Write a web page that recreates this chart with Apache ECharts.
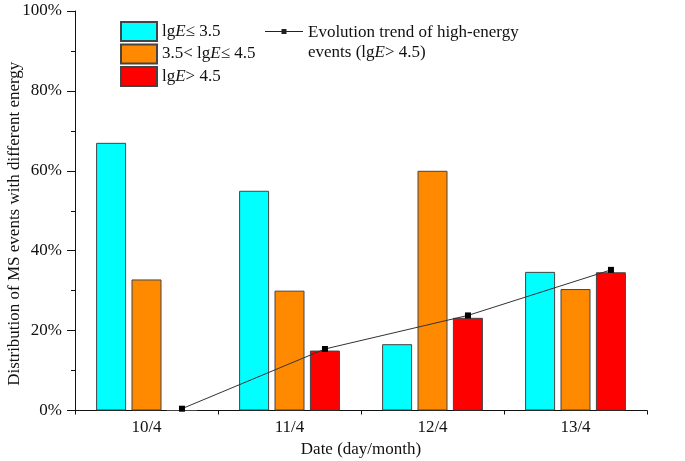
<!DOCTYPE html>
<html>
<head>
<meta charset="utf-8">
<script src="https://cdn.jsdelivr.net/npm/echarts@6/dist/echarts.min.js"></script>
<style>
html,body{margin:0;padding:0;background:#fff;}
#c{width:685px;height:461px;}
</style>
</head>
<body>
<div id="c"></div>
<script>
// Data (percent)
var categories = ['10/4', '11/4', '12/4', '13/4'];
var lowEnergy = [67, 55, 16.6, 34.7];      // lgE <= 3.5
var midEnergy = [32.8, 30, 60, 30.4];      // 3.5 < lgE <= 4.5
var highEnergy = [0, 15, 23.2, 34.6];      // lgE > 4.5
var trendValues = [0.45, 15.4, 23.8, 35.2]; // evolution trend of high-energy events
var trendOffset = 0.248; // trend points sit over the lgE>4.5 bar of each day
var yTicks = [0, 20, 40, 60, 80, 100];

var FONT = '"Liberation Serif", "Times New Roman", serif';
var rich = {
  n: {fontFamily: FONT, fontSize: 17, color: '#111', lineHeight: 20},
  i: {fontFamily: FONT, fontSize: 17, fontStyle: 'italic', color: '#111', lineHeight: 20}
};

var trendData = trendValues.map(function (v, i) { return [i + trendOffset, v]; });

var trendIcon = 'path://M0,0L0.01,0L0.01,0.01ZM0,19L0.01,19L0.01,18.99Z' +
  'M0,9L38,9L38,10L0,10Z' +
  'M16.5,7L21.5,7L21.5,12L16.5,12Z';

var chart = echarts.init(document.getElementById('c'));
chart.setOption({
  backgroundColor: '#ffffff',
  animation: false,
  grid: {left: 75, right: 38, top: 11, bottom: 50.5, outerBoundsMode: 'none', containLabel: false},
  legend: [{
    data: ['low', 'mid', 'high'],
    orient: 'vertical',
    left: 115, top: 16,
    icon: 'rect',
    itemWidth: 36, itemHeight: 19, itemGap: 1.5,
    textStyle: {rich: rich, fontFamily: FONT, fontSize: 17},
    formatter: function (name) {
      if (name === 'low') return '{n|lg}{i|E}{n|≤ 3.5}';
      if (name === 'mid') return '{n|3.5< lg}{i|E}{n|≤ 4.5}';
      return '{n|lg}{i|E}{n|> 4.5}';
    }
  }, {
    data: [{name: 'trend', icon: trendIcon, itemStyle: {color: '#222'}}],
    left: 260, top: 17,
    itemWidth: 38, itemHeight: 19,
    textStyle: {rich: rich, fontFamily: FONT, fontSize: 17, padding: [22, 0, 0, 0]},
    formatter: function () {
      return '{n|Evolution trend of high-energy}\n{n|events (lg}{i|E}{n|> 4.5)}';
    }
  }],
  xAxis: [{
    type: 'category',
    data: categories,
    name: 'Date (day/month)',
    nameLocation: 'middle',
    nameGap: 30,
    nameTextStyle: {fontFamily: FONT, fontSize: 17, color: '#111'},
    axisLine: {lineStyle: {color: '#111', width: 1}},
    axisTick: {show: true, length: 4, inside: false, lineStyle: {color: '#111'}},
    axisLabel: {fontFamily: FONT, fontSize: 17, color: '#111', margin: 9},
    splitLine: {show: false}
  }, {
    type: 'value',
    min: -0.5, max: 3.5,
    show: false
  }],
  yAxis: {
    type: 'value',
    min: yTicks[0], max: yTicks[yTicks.length - 1], interval: 20,
    name: 'Distribution of MS events with different energy',
    nameLocation: 'middle',
    nameGap: 52,
    nameMoveOverlap: false,
    nameTextStyle: {fontFamily: FONT, fontSize: 17, color: '#111', padding: [0, 26, 0, 0]},
    axisLine: {show: true, onZero: false, lineStyle: {color: '#111', width: 1}},
    axisTick: {show: true, length: 8, lineStyle: {color: '#111'}},
    minorTick: {show: true, splitNumber: 2, length: 4, lineStyle: {color: '#111'}},
    axisLabel: {fontFamily: FONT, fontSize: 17, color: '#111', margin: 13, formatter: '{value}%'},
    splitLine: {show: false}
  },
  series: [{
    name: 'low', type: 'bar', data: lowEnergy,
    barWidth: 30, barGap: '18%',
    itemStyle: {color: '#00ffff', borderColor: '#444', borderWidth: 1}
  }, {
    name: 'mid', type: 'bar', data: midEnergy,
    barWidth: 30, barGap: '18%',
    itemStyle: {color: '#ff8a00', borderColor: '#444', borderWidth: 1}
  }, {
    name: 'high', type: 'bar', data: highEnergy,
    barWidth: 30, barGap: '18%',
    itemStyle: {color: '#ff0000', borderColor: '#444', borderWidth: 1}
  }, {
    name: 'trend', type: 'line', data: trendData,
    xAxisIndex: 1, yAxisIndex: 0,
    symbol: 'rect', symbolSize: 6,
    z: 5,
    lineStyle: {color: '#333', width: 1},
    itemStyle: {color: '#000'}
  }]
});
</script>
</body>
</html>
